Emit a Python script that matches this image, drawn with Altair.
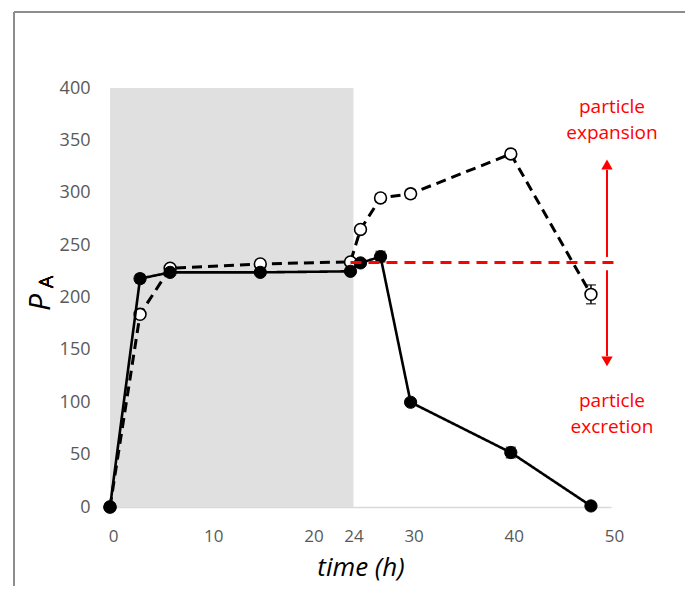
import altair as alt
import pandas as pd

# ---- data ----
time_filled = [0, 3, 6, 15, 24, 25, 27, 30, 40, 48]
pa_filled = [0, 218, 224, 224, 225, 233, 239, 100, 52, 1]
err_filled = [0, 4, 3, 2, 2, 3, 5, 3, 5, 1]

time_open = [0, 3, 6, 15, 24, 25, 27, 30, 40, 48]
pa_open = [0, 184, 228, 232, 234, 265, 295, 299, 337, 203]
err_open = [0, 3, 3, 3, 3, 3, 4, 4, 4, 9]

x_ticks = [0, 10, 20, 24, 30, 40, 50]
y_ticks = [0, 50, 100, 150, 200, 250, 300, 350, 400]

shade_start, shade_end = 0, 24.3
shade_low, shade_high = 0, 400

ref_level = 233.5
ref_start, ref_end = 24, 50.4

arrow_x = 49.6
up_shaft = [238.7, 321.7]
up_head = 327
down_shaft = [226, 144]
down_head = 139

labels_text = ["particle", "expansion", "particle", "excretion"]
labels_x = [50.1, 50.1, 50.1, 50.1]
labels_y = [382, 357, 101, 76]

# ---- tables ----
def make_df(t, p, e):
    return pd.DataFrame({
        "t": t, "pa": p,
        "lo": [a - b for a, b in zip(p, e)],
        "hi": [a + b for a, b in zip(p, e)],
    })

df_f = make_df(time_filled, pa_filled, err_filled)
df_o = make_df(time_open, pa_open, err_open)
df_shade = pd.DataFrame({"t": [shade_start], "t2": [shade_end], "pa": [shade_low], "pa2": [shade_high]})
df_ref = pd.DataFrame({"t": [ref_start], "t2": [ref_end], "pa": [ref_level]})
df_shaft = pd.DataFrame({"t": [arrow_x, arrow_x], "pa": [up_shaft[0], down_shaft[0]], "pa2": [up_shaft[1], down_shaft[1]]})
df_heads = pd.DataFrame({"t": [arrow_x, arrow_x], "pa": [up_head, down_head], "shape": ["triangle-up", "triangle-down"]})
df_text = pd.DataFrame({"t": labels_x, "pa": labels_y, "txt": labels_text})

FONT = "Open Sans"

x_axis = alt.Axis(
    values=x_ticks, title="time (h)", titleFont=FONT, titleFontStyle="italic",
    titleFontSize=26, titleFontWeight="normal", titleColor="black", titlePadding=10,
    labelFont=FONT, labelFontSize=17, labelColor="#595959", labelPadding=21,
    labelOffset=3, ticks=False, tickSize=0, domainColor="#d9d9d9", domainWidth=1.3,
    grid=False, labelFlush=False,
)
y_axis = alt.Axis(
    values=y_ticks, title="P", titleFont=FONT, titleFontStyle="italic",
    titleFontSize=30, titleFontWeight="normal", titleColor="black",
    titleAngle=270, titleX=-70, titleY=214, titleAlign="center", titleBaseline="middle",
    labelFont=FONT, labelFontSize=18, labelColor="#595959", labelPadding=20,
    ticks=False, tickSize=0, domain=False, grid=False,
)
xs = alt.Scale(domain=[0, 50], nice=False, zero=False)
ys = alt.Scale(domain=[0, 400], nice=False, zero=False)
X = alt.X("t:Q", scale=xs, axis=x_axis)
Y = alt.Y("pa:Q", scale=ys, axis=y_axis)
YLO = alt.Y("lo:Q", scale=ys, axis=y_axis)
YHI = alt.Y("hi:Q", scale=ys, axis=y_axis)

shade = alt.Chart(df_shade).mark_rect(color="#e0e0e0").encode(x=X, x2="t2:Q", y=Y, y2="pa2:Q")

def series(df, dashed, filled):
    line = alt.Chart(df).mark_line(
        color="black", strokeWidth=3 if dashed else 2.6,
        strokeDash=[10, 6] if dashed else [1, 0],
    ).encode(x=X, y=Y)
    bars = alt.Chart(df).mark_rule(color="black", strokeWidth=1.5).encode(x=X, y=YLO, y2="hi:Q")
    cap_lo = alt.Chart(df).mark_tick(color="black", thickness=1.5, size=10, orient="horizontal").encode(x=X, y=YLO)
    cap_hi = alt.Chart(df).mark_tick(color="black", thickness=1.5, size=10, orient="horizontal").encode(x=X, y=YHI)
    pts = alt.Chart(df).mark_point(
        shape="circle", size=150 if filled else 140, filled=True,
        fill="black" if filled else "white", stroke="black",
        strokeWidth=1 if filled else 1.6, opacity=1,
    ).encode(x=X, y=Y)
    return [line, bars, cap_lo, cap_hi, pts]

ref = alt.Chart(df_ref).mark_rule(color="#ff0000", strokeWidth=3, strokeDash=[11, 7]).encode(x=X, x2="t2:Q", y=Y)
shaft = alt.Chart(df_shaft).mark_rule(color="#ff0000", strokeWidth=2).encode(x=X, y=Y, y2="pa2:Q")
heads = alt.Chart(df_heads).mark_point(filled=True, color="#ff0000", size=130, opacity=1).encode(
    x=X, y=Y, shape=alt.Shape("shape:N", scale=None))
texts = alt.Chart(df_text).mark_text(
    color="#ff0000", font=FONT, fontSize=19, align="center", baseline="middle"
).encode(x=X, y=Y, text="txt:N")

subscript = alt.Chart(df_text).mark_text(
    text="A", font=FONT, fontSize=20, angle=270, color="black", align="center", baseline="middle"
).encode(x=alt.value(-63), y=alt.value(194))

border_top = alt.Chart(df_text).mark_rule(color="#8c8c8c", strokeWidth=1.5).encode(
    x=alt.value(-96), x2=alt.value(700), y=alt.value(-76))
border_left = alt.Chart(df_text).mark_rule(color="#8c8c8c", strokeWidth=1.5).encode(
    x=alt.value(-96), y=alt.value(-76), y2=alt.value(600))

layers = [shade] + series(df_o, True, False) + series(df_f, False, True) + [ref, shaft, heads, texts, subscript, border_top, border_left]

chart = alt.layer(*layers).properties(
    width=501, height=419,
    autosize=alt.AutoSizeParams(type="none"),
    padding={"left": 102, "top": 80, "right": 74, "bottom": 79},
    background="white",
).configure_view(stroke=None)

chart.save("out.html", embed_options={"renderer": "svg", "actions": False})
